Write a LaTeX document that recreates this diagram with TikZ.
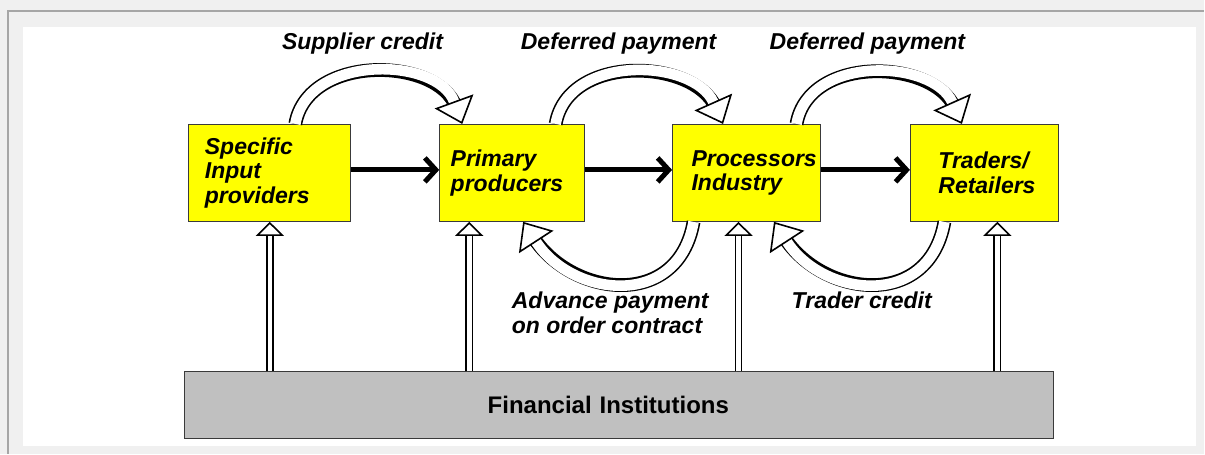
\documentclass[tikz,border=0pt]{standalone}
\usepackage{fontspec}
\setmainfont{Liberation Sans}
\usepackage{xcolor}
\definecolor{cBox}{HTML}{FFFF00}
\definecolor{cBank}{HTML}{C0C0C0}
\definecolor{cFrame}{HTML}{F0F0F0}
\definecolor{cRule}{HTML}{A6A6A6}
\definecolor{cEdge}{HTML}{3A3A3A}
\usetikzlibrary{positioning,arrows.meta,calc}
\tikzset{
  actor-box/.style={draw=cEdge,line width=1pt,fill=cBox,minimum height=97pt,
    align=left,inner ysep=0pt,font=\fontsize{23}{24.5}\selectfont\bfseries\itshape},
  bank-box/.style={draw=cEdge,line width=1pt,fill=cBank,minimum height=67pt,
    align=left,font=\fontsize{24}{26}\selectfont\bfseries},
  flow-label/.style={inner sep=0pt,align=left,
    font=\fontsize{23}{25}\selectfont\bfseries\itshape},
  arrow-goods/.style={-{Straight Barb[length=11pt,width=24pt]},line width=5pt},
  % hollow arrows: black rim underneath, white core with an open head on top
  arrow-credit/.style={draw=white,line width=10.6pt,
    preaction={draw=black,line width=13.8pt,-,shorten >=18pt},
    -{Triangle[open,fill=white,color=black,line width=1.6pt 0,length=24pt 0,width=41pt 0]}},
  arrow-fund/.style={draw=white,line width=4.6pt,
    preaction={draw=black,line width=7.8pt,-,shorten >=8pt},
    -{Triangle[open,fill=white,color=black,line width=1.6pt 0,length=14pt 0,width=28pt 0]}},
}

\begin{document}
\begin{tikzpicture}[x=1pt,y=1pt]
  % frame
  \fill[cFrame] (0,0) rectangle (1205,-454);
  \draw[cRule,line width=1.5pt] (8,-454) -- (8,-11) -- (1205,-11);
  \fill[white] (23,-27) rectangle (1197,-446);
  \useasboundingbox (0,0) rectangle (1205,-454);

  % chain
  \node[actor-box,text width=130pt,inner xsep=16pt] (inp) at (270,-173) {Specific\\Input\\providers};
  \node[actor-box,text width=123pt,inner xsep=11pt,right=88pt of inp] (prim) {Primary\\producers};
  \node[actor-box,text width=110pt,inner xsep=19pt,right=87pt of prim] (proc) {Processors\\Industry};
  \node[actor-box,text width=92pt,inner xsep=28pt,right=89pt of proc] (trad) {Traders/\\Retailers};
  \node[bank-box,text width=263pt,inner xsep=303pt] (bank) at (619.5,-405.5) {Financial Institutions};

  \draw[arrow-goods] ([yshift=3pt]inp.east) -- ([yshift=3pt]inp.east -| prim.west);
  \draw[arrow-goods] ([yshift=3pt]prim.east) -- ([yshift=3pt]prim.east -| proc.west);
  \draw[arrow-goods] ([yshift=3pt]proc.east) -- ([yshift=3pt]proc.east -| trad.west);

  % funding
  \coordinate (f1) at (inp.south);
  \coordinate (f2) at ($(prim.south)+(-43,0)$);
  \coordinate (f3) at ($(proc.south)+(-8,0)$);
  \coordinate (f4) at ($(trad.south)+(13,0)$);
  \foreach \f in {f1,f2,f3,f4}
    \draw[arrow-fund] (\f |- bank.north) -- (\f);

  % credit loops
  \draw[arrow-credit] ($(inp.north west)+(107,0)$) to[out=80,in=110,looseness=1.1] ($(prim.north west)+(23,0)$);
  \draw[arrow-credit] ($(prim.north west)+(116.5,0)$) to[out=80,in=114,looseness=1.1] ($(proc.north west)+(51,0)$);
  \draw[arrow-credit] ($(proc.north west)+(124.5,0)$) to[out=80,in=114,looseness=1.1] ($(trad.north west)+(52,0)$);
  \draw[arrow-credit] ($(proc.south west)+(21.5,0)$) to[out=-100,in=-57,looseness=1.35] ($(prim.south west)+(84,0)$);
  \draw[arrow-credit] ($(trad.south west)+(34.5,0)$) to[out=-100,in=-57,looseness=1.35] ($(proc.south west)+(102,0)$);

  \node[flow-label,anchor=base west] (l-supp) at (282,-50) {Supplier credit};
  \node[flow-label,anchor=base west] (l-def1) at (521,-50) {Deferred payment};
  \node[flow-label,anchor=base west] (l-def2) at (770,-50) {Deferred payment};
  \node[flow-label,anchor=north west] (l-adv) at (512,-292) {Advance payment\\on order contract};
  \node[flow-label,anchor=base west] (l-trad) at (792,-309) {Trader credit};
\end{tikzpicture}
\end{document}
